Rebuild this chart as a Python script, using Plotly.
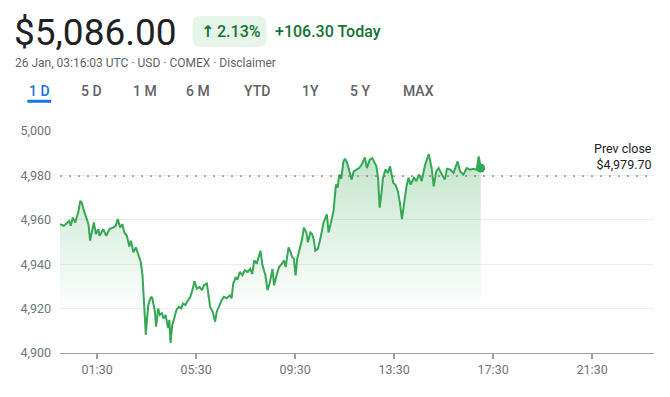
import plotly.graph_objects as go

DAY = "2026-01-26"

times = ["00:00","00:05","00:09","00:15","00:22","00:26","00:31","00:37","00:41","00:45",
         "00:49","00:53","00:57","01:03","01:09","01:13","01:17","01:22","01:27","01:33",
         "01:36","01:45","01:52","02:00","02:09","02:15","02:20","02:26","02:31","02:36",
         "02:42","02:48","02:52","02:58","03:04","03:08","03:12","03:16","03:20","03:24",
         "03:28","03:31","03:34","03:39","03:43","03:47","03:50","03:53","03:58","04:02",
         "04:07","04:11","04:16","04:22","04:25","04:28","04:32","04:36","04:42","04:48",
         "04:54","04:58","05:04","05:08","05:16","05:22","05:26","05:32","05:38","05:44",
         "05:49","05:56","06:00","06:04","06:10","06:16","06:20","06:26","06:32","06:37",
         "06:44","06:52","06:56","07:00","07:06","07:10","07:16","07:22","07:28","07:35",
         "07:41","07:46","07:51","07:57","08:06","08:11","08:18","08:23","08:29","08:35",
         "08:39","08:45","08:51","08:58","09:03","09:07","09:14","09:19","09:23","09:27",
         "09:31","09:35","09:41","09:47","09:51","09:57","10:01","10:07","10:11","10:15",
         "10:19","10:25","10:31","10:39","10:47","10:51","10:57","11:03","11:09","11:13",
         "11:17","11:22","11:27","11:31","11:36","11:41","11:47","11:52","11:59","12:05",
         "12:11","12:19","12:24","12:31","12:37","12:43","12:47","12:51","12:55","12:59",
         "13:03","13:09","13:15","13:20","13:25","13:28","13:33","13:39","13:44","13:49",
         "13:55","14:00","14:05","14:10","14:18","14:24","14:30","14:37","14:45","14:50",
         "14:54","15:01","15:06","15:12","15:18","15:26","15:33","15:38","15:46","15:54",
         "16:04","16:10","16:18","16:26","16:34","16:42","16:50","16:55","17:00"]

prices = [4958.0,4957.6,4957.3,4958.2,4959.5,4957.3,4961.0,4958.8,4961.0,4964.0,
          4968.5,4967.7,4964.7,4961.0,4958.0,4950.6,4955.1,4958.8,4953.6,4955.8,
          4952.8,4955.8,4952.8,4955.8,4956.5,4957.3,4960.3,4956.5,4958.0,4954.3,
          4952.8,4948.0,4950.6,4945.4,4947.6,4945.4,4943.9,4940.9,4935.0,4920.1,
          4908.2,4915.6,4921.6,4924.6,4925.3,4921.6,4918.6,4911.9,4920.1,4917.1,
          4917.9,4915.6,4917.1,4911.2,4914.9,4904.5,4912.6,4914.9,4919.3,4920.8,
          4920.1,4922.3,4921.6,4923.1,4925.3,4929.0,4932.3,4929.0,4929.8,4928.3,
          4930.5,4931.3,4926.0,4920.8,4918.6,4914.1,4918.6,4921.6,4923.8,4925.3,
          4924.6,4926.0,4924.6,4931.3,4934.2,4933.0,4936.5,4935.0,4937.2,4936.5,
          4937.9,4935.7,4941.7,4940.2,4946.1,4939.4,4935.0,4928.3,4932.0,4937.9,
          4930.5,4935.0,4938.7,4940.2,4941.7,4938.7,4947.6,4945.4,4943.2,4942.4,
          4935.0,4942.4,4946.9,4951.3,4956.5,4954.3,4949.9,4954.3,4953.6,4951.3,
          4946.1,4946.9,4951.3,4958.8,4962.5,4954.3,4958.8,4964.0,4975.9,4974.5,
          4980.4,4978.5,4986.3,4987.5,4985.6,4982.6,4978.1,4981.8,4982.6,4983.3,
          4984.8,4988.1,4983.3,4987.1,4987.8,4985.6,4984.1,4978.9,4965.5,4971.4,
          4978.9,4982.6,4981.1,4984.1,4979.6,4976.6,4975.9,4972.9,4967.7,4960.3,
          4968.5,4975.1,4978.9,4975.9,4978.9,4977.4,4980.4,4977.4,4984.8,4987.8,
          4989.6,4983.3,4975.1,4981.8,4983.3,4980.4,4978.1,4983.0,4982.6,4981.1,
          4986.3,4981.8,4980.4,4983.3,4982.6,4983.0,4982.6,4988.5,4983.3]

prev_close = 4979.70
tick_times = ["01:30", "05:30", "09:30", "13:30", "17:30", "21:30"]
y_ticks = [4900, 4920, 4940, 4960, 4980, 5000]

price_text = "$5,086.00"
change_arrow = "↑"
change_pct = "2.13%"
change_abs = "+106.30 Today"
subtitle = "26 Jan, 03:16:03 UTC · USD · COMEX · Disclaimer"
prev_label = "Prev close<br>$4,979.70"
tabs = ["1 D", "5 D", "1 M", "6 M", "YTD", "1Y", "5 Y", "MAX"]
tab_x = [32, 85, 139, 193, 252, 306, 357, 416]

GREEN = "#34a853"
OFF = 8  # page body margin
W, H = 670 - OFF, 397 - 2 * OFF
L, R, T, B = 53 - OFF, 654 - OFF, 131 - OFF, 355 - OFF

def px_x(px):
    return (px - OFF - L) / (R - L)

def px_y(py):
    return (B - (py - OFF)) / (B - T)

x = [f"{DAY} {t}" for t in times]

fig = go.Figure()
fig.add_trace(go.Scatter(
    x=x, y=prices, mode="lines",
    line=dict(color=GREEN, width=2),
    fill="tozeroy",
    fillgradient=dict(type="vertical", start=4990, stop=4918,
                      colorscale=[[0, "rgba(52,168,83,0.30)"], [1, "rgba(52,168,83,0.0)"]]),
    hoverinfo="skip", showlegend=False,
))
fig.add_trace(go.Scatter(
    x=[x[-1]], y=[prices[-1]], mode="markers",
    marker=dict(color=GREEN, size=9),
    hoverinfo="skip", showlegend=False,
))

shapes = [
    dict(type="line", xref="paper", yref="y", x0=0, x1=1, y0=prev_close, y1=prev_close,
         line=dict(color="#5f6368", width=1, dash="2px,7px"), layer="above"),
]

bx0, bx1, by0, by1, r = 187, 262, 15, 46, 8
def P(a, b):
    return f"{px_x(a):.5f},{px_y(b):.5f}"
path = (f"M {P(bx0+r,by0)} L {P(bx1-r,by0)} Q {P(bx1,by0)} {P(bx1,by0+r)} "
        f"L {P(bx1,by1-r)} Q {P(bx1,by1)} {P(bx1-r,by1)} L {P(bx0+r,by1)} "
        f"Q {P(bx0,by1)} {P(bx0,by1-r)} L {P(bx0,by0+r)} Q {P(bx0,by0)} {P(bx0+r,by0)} Z")
shapes.append(dict(type="path", xref="paper", yref="paper", path=path,
                   fillcolor="#e6f4ea", line=dict(width=0), layer="above"))
shapes.append(dict(type="rect", xref="paper", yref="paper",
                   x0=px_x(20), x1=px_x(44), y0=px_y(102.5), y1=px_y(99.5),
                   fillcolor="#1a73e8", line=dict(width=0), layer="above"))

FONT = "Roboto, Arial, sans-serif"
ann = [
    dict(text=price_text, x=px_x(4), y=px_y(32), xanchor="left", yanchor="middle",
         font=dict(size=37, color="#202124", family=FONT)),
    dict(text=change_arrow, x=px_x(202.5), y=px_y(31), xanchor="center", yanchor="middle",
         font=dict(size=16, color="#137333", family="DejaVu Sans", weight="bold")),
    dict(text=change_pct, x=px_x(210), y=px_y(31), xanchor="left", yanchor="middle",
         font=dict(size=16, color="#137333", family=FONT, weight=500)),
    dict(text=change_abs, x=px_x(269), y=px_y(31), xanchor="left", yanchor="middle",
         font=dict(size=16, color="#137333", family=FONT, weight=500)),
    dict(text=subtitle, x=px_x(5), y=px_y(62), xanchor="left", yanchor="middle",
         font=dict(size=12, color="#5f6368", family=FONT)),
    dict(text=prev_label, x=px_x(654), y=px_y(156.5), xanchor="right",
         yanchor="middle", align="right",
         font=dict(size=12.5, color="#202124", family=FONT)),
]
for t, cx in zip(tabs, tab_x):
    ann.append(dict(text=t, x=px_x(cx), y=px_y(91), xanchor="center", yanchor="middle",
                    font=dict(size=14, color="#1a73e8" if t == "1 D" else "#5f6368",
                              family=FONT, weight=500)))
for a in ann:
    a.update(xref="paper", yref="paper", showarrow=False)

fig.update_layout(
    width=W, height=H, autosize=False,
    margin=dict(l=L, r=W - R, t=T, b=H - B, pad=0),
    paper_bgcolor="white", plot_bgcolor="white",
    font=dict(family=FONT, color="#70757a"),
    shapes=shapes, annotations=ann,
    xaxis=dict(type="date", range=[f"{DAY} 00:00", "2026-01-27 00:00"],
               tickvals=[f"{DAY} {t}" for t in tick_times], ticktext=tick_times,
               showgrid=False, zeroline=False, showline=True, linecolor="#9aa0a6",
               linewidth=1, ticks="outside", ticklen=5, tickwidth=2, tickcolor="#9aa0a6",
               tickfont=dict(size=12.5, color="#70757a"), fixedrange=True),
    yaxis=dict(range=[4900, 5000], tickvals=y_ticks, tickformat=",d",
               showgrid=True, gridcolor="#eeeeee", gridwidth=1, zeroline=False,
               showline=False, ticks="", ticklabelstandoff=8,
               tickfont=dict(size=12.5, color="#70757a"), fixedrange=True),
)

fig.write_html("out.html")
